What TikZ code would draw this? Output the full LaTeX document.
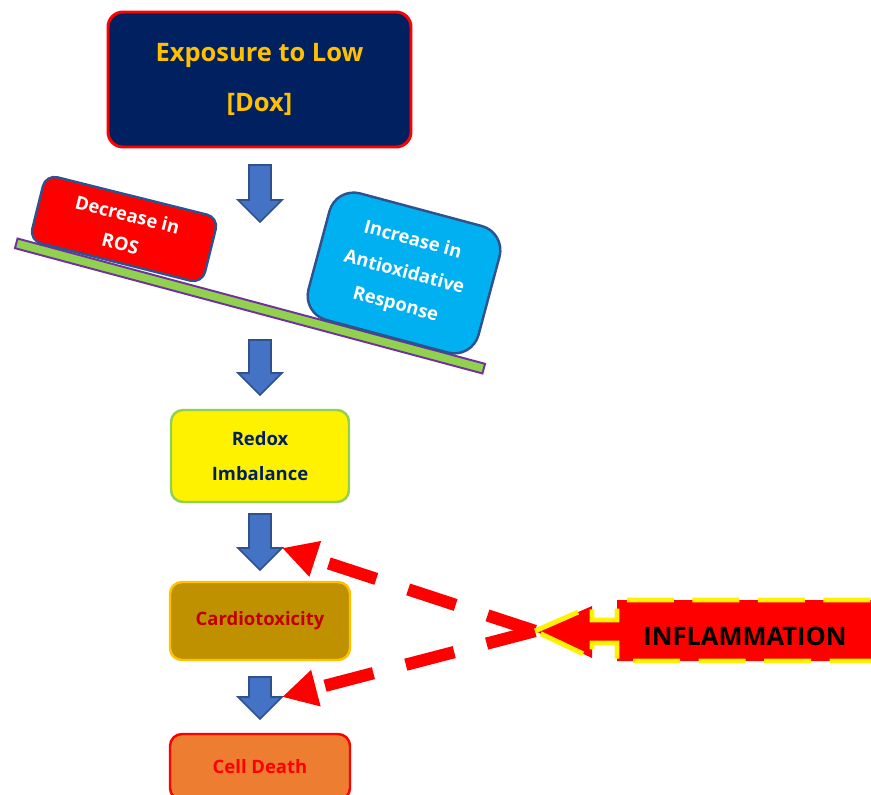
\documentclass[tikz,border=0pt]{standalone}
\usepackage{fontspec}
\setmainfont{Open Sans}
\usepackage{xcolor}
\usepackage{tikz}
\usetikzlibrary{arrows.meta}
\definecolor{marine}{HTML}{002060}
\definecolor{orjaune}{HTML}{FFC000}
\definecolor{bleufleche}{HTML}{4472C4}
\definecolor{bleubord}{HTML}{2F528F}
\definecolor{vertclair}{HTML}{92D050}
\definecolor{violetbord}{HTML}{7030A0}
\definecolor{ciel}{HTML}{00B0F0}
\definecolor{ocre}{HTML}{BF9000}
\definecolor{rougefonce}{HTML}{C00000}
\definecolor{orangevif}{HTML}{ED7D31}

\begin{document}
\begin{tikzpicture}[x=0.2mm, y=-0.2mm,
    boite/.style={rectangle, rounded corners=2.4mm, line width=1.4pt, align=center,
                  minimum width=36mm, font=\bfseries\fontsize{10.5}{20}\selectfont},
    planche/.style={rectangle, fill=vertclair, draw=violetbord, line width=1.1pt,
                    minimum width=96.8mm, minimum height=2mm, inner sep=0pt},
    pics/bloc/.style={code={
      \path[fill=bleufleche, draw=bleubord, line width=1pt]
        (-11,0) -- (11,0) -- (11,#1) -- (22,#1) -- (0,{#1+22}) -- (-22,#1) -- (-11,#1) -- cycle;
      \coordinate (-pointe) at (22,#1);}},
    pointille/.style={draw=red, line width=7pt, dash pattern=on 10mm off 6.7mm,
                      -{Triangle[length=7mm, width=7mm]}}]
    \useasboundingbox (0,0) rectangle (871,795);

    \node[boite, fill=marine, draw=red, text=orjaune, rounded corners=3mm, line width=1.7pt,
          minimum width=60.6mm, minimum height=27mm, font=\bfseries\fontsize{14.5}{28}\selectfont]
          (expo) at (259.5,79.5) {Exposure to Low\\{}[Dox]};
    \pic (f1) at (260,165) {bloc=35};

    % la balance
    \node[planche, rotate=-15] (plateau) at (250,306) {};
    \node[boite, fill=red, draw=bleubord, text=white, rotate=-14, minimum width=35.6mm,
          minimum height=13.6mm, font=\bfseries\fontsize{10.5}{17}\selectfont]
          (baisse) at (124,229) {Decrease in\\ROS};
    \node[boite, fill=ciel, draw=bleubord, text=white, rotate=-15, rounded corners=5mm,
          minimum width=35.2mm, minimum height=26.2mm, font=\bfseries\fontsize{10.5}{19}\selectfont]
          (hausse) at (404,273) {Increase in\\Antioxidative\\Response};
    \pic (f2) at (260,340) {bloc=33};

    \node[boite, fill=yellow, draw=vertclair, text=marine, minimum width=35.6mm,
          minimum height=18.4mm] (redox) at (260,456) {Redox\\Imbalance};
    \pic (f3) at (260,514) {bloc=34};
    \node[boite, fill=ocre, draw=orjaune, text=rougefonce, minimum height=15.6mm]
          (cardio) at (260,621) {Cardiotoxicity};
    \pic (f4) at (260,677) {bloc=20};
    \node[boite, fill=orangevif, draw=red, text=red, minimum height=13.2mm]
          (mort) at (260,767) {Cell Death};

    % inflammation
    \coordinate (pointe) at (535,631);
    \draw[pointille] (pointe) -- (f3-pointe);
    \draw[pointille] (pointe) -- (f4-pointe);
    \path[fill=red, draw=yellow, line width=2.8pt, dash pattern=on 9.4mm off 3.7mm]
      (pointe) -- (592,606) -- (592,620) -- (617,620) -- (617,600) -- (885,600)
      -- (885,661) -- (617,661) -- (617,643) -- (592,643) -- (592,658) -- cycle;
    \node[font=\bfseries\fontsize{14.5}{18}\selectfont] (inflam) at (745,636) {INFLAMMATION};
  \end{tikzpicture}
\end{document}
